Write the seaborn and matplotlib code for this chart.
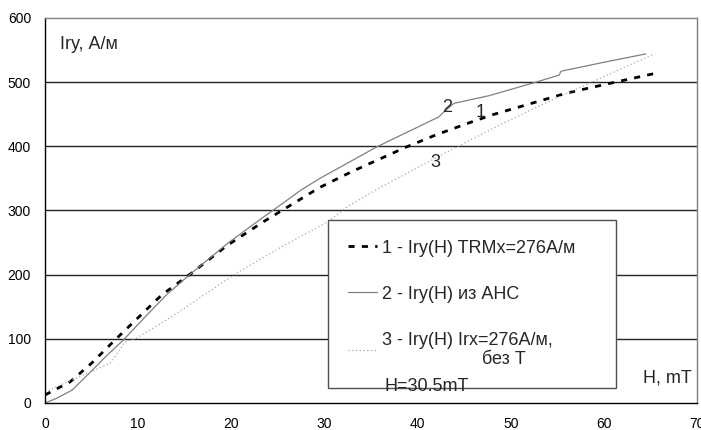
import numpy as np
import pandas as pd
import seaborn as sns
import matplotlib.pyplot as plt

# данные
h1 = [0, 2.7, 5, 7.5, 10, 12.5, 15.7, 19.5, 23.4, 29.5, 33, 38.8, 42, 45.8, 48, 52, 56, 60.6, 65.6]
iry1 = [12.5, 33, 62, 98, 133, 168, 202, 245, 282, 336, 361, 399, 418, 438, 449, 466, 483, 498, 514]

h2 = [0, 1.2, 2.9, 4.8, 6.5, 8.4, 11, 13, 15.7, 19.8, 23, 25.5, 27.5, 29.5, 31.5, 35.6,
      42.3, 42.7, 43.9, 47.7, 52.7, 55.2, 55.4, 60, 64.5]
iry2 = [0, 7, 20, 47, 72, 98, 138, 168, 202, 251, 285, 311, 332, 350, 366, 399,
        446, 452, 467, 479, 500, 511, 517, 531, 544]

h3 = [0, 2.4, 4.5, 7, 8.6, 9.8, 12, 15, 20.2, 25, 30.4, 32.7, 35.9, 40, 44.2, 48.8, 53.5, 58.7, 65.4]
iry3 = [17, 33, 46, 62, 95, 101, 120, 148, 199, 240, 283, 308, 335, 367, 399, 433, 466, 500, 544]

labels = ["1 - Iry(H) TRMx=276А/м",
          "2 - Iry(H) из АНС",
          "3 - Iry(H) Irx=276А/м,\n                    без Т"]

sns.set_style("white")
plt.rcParams['font.family'] = ['Liberation Sans', 'DejaVu Sans']

fig = plt.figure(figsize=(7.01, 4.30), dpi=100)
ax = fig.add_axes([45 / 701, 27 / 430, 652 / 701, 385 / 430])

sns.lineplot(x=h1, y=iry1, ax=ax, color="black", linewidth=2.0, sort=False,
             label=labels[0])
sns.lineplot(x=h2, y=iry2, ax=ax, color="#808080", linewidth=0.9, sort=False,
             label=labels[1])
sns.lineplot(x=h3, y=iry3, ax=ax, color="#a8a8a8", linewidth=0.9, sort=False,
             label=labels[2])
lines = ax.get_lines()
lines[0].set_dashes([2.2, 2.6])
lines[2].set_dashes([1, 2])

ax.set_xlim(0, 70)
ax.set_ylim(0, 600)
ax.set_xticks(range(0, 71, 10))
ax.set_yticks(range(0, 601, 100))
ax.tick_params(axis="both", labelsize=10, length=4, width=1, colors="black", direction="out")
ax.tick_params(axis="x", pad=8, direction="inout")
ax.tick_params(axis="y", pad=6)
ax.set_xlabel("")
ax.set_ylabel("")

for y in range(100, 600, 100):
    ax.axhline(y, color="#222222", linewidth=1.0, zorder=0)

for s in ["left", "bottom"]:
    ax.spines[s].set_color("black")
    ax.spines[s].set_linewidth(1.0)
for s in ["top", "right"]:
    ax.spines[s].set_color("#808080")
    ax.spines[s].set_linewidth(1.0)

leg = ax.legend(loc="lower left", bbox_to_anchor=(0.434, 0.039, 0.442, 0.442),
                bbox_transform=ax.transAxes, mode="expand", fontsize=13,
                frameon=True, fancybox=False, borderpad=1.1, labelspacing=1.6,
                handlelength=1.6, handletextpad=0.3, borderaxespad=0)
leg.get_frame().set_edgecolor("#505050")
leg.get_frame().set_linewidth(1.0)
leg.get_frame().set_alpha(1)
leg.set_zorder(3)

ax.text(1.6, 558, "Iry, А/м", fontsize=13, ha="left", va="center")
ax.text(66.8, 39, "H, mT", fontsize=13, ha="center", va="center")
ax.text(36.4, 26, "H=30.5mT", fontsize=13, ha="left", va="center", zorder=5)
ax.text(46.8, 452, "1", fontsize=13, ha="center", va="center")
ax.text(43.2, 461, "2", fontsize=13, ha="center", va="center")
ax.text(41.9, 375, "3", fontsize=13, ha="center", va="center")

plt.savefig("out.png", dpi=100)
